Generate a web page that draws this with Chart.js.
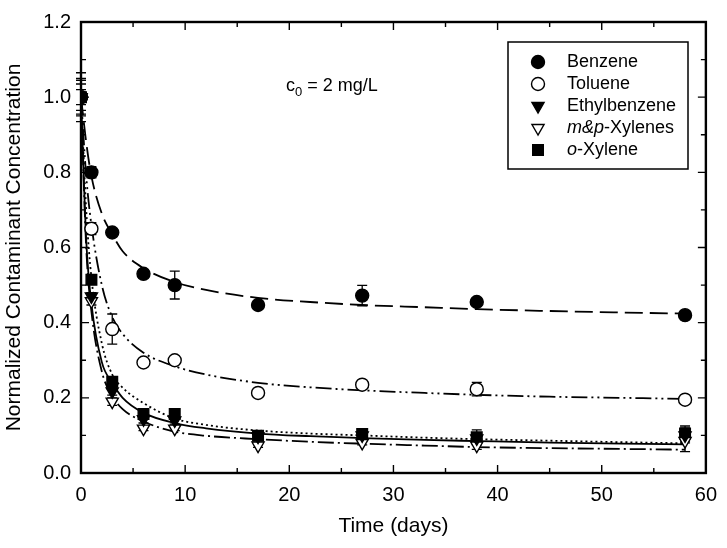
<!DOCTYPE html>
<html>
<head>
<meta charset="utf-8">
<script src="https://cdn.jsdelivr.net/npm/chart.js@4.4.0/dist/chart.umd.min.js"></script>
<style>
  body { margin: 0; background: #fff; }
  canvas { display: block; }
</style>
</head>
<body>
<canvas id="chart" width="727" height="548"></canvas>
<script>
// sampling days
const days = [0, 1, 3, 6, 9, 17, 27, 38, 58];

// measured normalized concentrations
const benzene      = [1.0, 0.80, 0.64, 0.53, 0.50, 0.447, 0.472, 0.455, 0.42];
const toluene      = [1.0, 0.65, 0.383, 0.294, 0.30, 0.213, 0.235, 0.223, 0.195];
const ethylbenzene = [1.0, 0.47, 0.217, 0.143, 0.14, 0.097, 0.10, 0.092, 0.10];
const mpXylenes    = [1.0, 0.457, 0.19, 0.118, 0.118, 0.073, 0.08, 0.073, 0.085];
const oXylene      = [1.0, 0.514, 0.243, 0.157, 0.157, 0.099, 0.104, 0.095, 0.105];

// error bars (+/-)
const benzeneErr      = [0.065, 0.015, 0.01, 0.01, 0.037, 0.01, 0.027, 0.008, 0.012];
const tolueneErr      = [0.05, 0.016, 0.04, 0.005, 0.005, 0.005, 0.008, 0.018, 0.01];
const ethylbenzeneErr = [0.035, 0.01, 0.01, 0.01, 0.01, 0.005, 0.005, 0.015, 0.02];
const mpXylenesErr    = [0.045, 0.01, 0.01, 0.005, 0.005, 0.005, 0.005, 0.01, 0.028];
const oXyleneErr      = [0.02, 0.01, 0.01, 0.01, 0.01, 0.005, 0.008, 0.02, 0.02];

// fitted curves
const fitDays = [0, 0.5, 1, 2, 3, 4, 6, 9, 12, 17, 22, 27, 33, 38, 45, 52, 58];
const benzeneFit      = [1.0, 0.88, 0.79, 0.69, 0.635, 0.59, 0.545, 0.508, 0.487, 0.466, 0.455, 0.447, 0.441, 0.436, 0.431, 0.427, 0.424];
const tolueneFit      = [1.0, 0.79, 0.66, 0.50, 0.415, 0.37, 0.32, 0.284, 0.262, 0.24, 0.228, 0.22, 0.213, 0.208, 0.203, 0.20, 0.197];
const ethylbenzeneFit = [1.0, 0.62, 0.45, 0.295, 0.24, 0.20, 0.16, 0.133, 0.119, 0.105, 0.098, 0.093, 0.088, 0.085, 0.081, 0.078, 0.076];
const mpXylenesFit    = [1.0, 0.60, 0.43, 0.27, 0.205, 0.17, 0.137, 0.11, 0.099, 0.09, 0.083, 0.078, 0.073, 0.069, 0.066, 0.064, 0.062];
const oXyleneFit      = [1.0, 0.70, 0.52, 0.345, 0.262, 0.227, 0.186, 0.145, 0.128, 0.113, 0.105, 0.10, 0.094, 0.09, 0.086, 0.082, 0.079];

// axis ticks
const xMajor = [0, 10, 20, 30, 40, 50, 60];
const xMinor = [5, 15, 25, 35, 45, 55];
const yMajor = [0, 0.2, 0.4, 0.6, 0.8, 1.0, 1.2];
const yMinor = [0.1, 0.3, 0.5, 0.7, 0.9, 1.1];

const seriesNames = ['Benzene', 'Toluene', 'Ethylbenzene', 'm&p-Xylenes', 'o-Xylene'];
const italicPart  = ['', '', '', 'm&p', 'o'];

const FONT = '"Liberation Sans", Arial, Helvetica, sans-serif';

function pts(xs, ys) {
    return xs.map((x, i) => ({ x: x, y: ys[i] }));
}

const series = [
    { data: benzene, err: benzeneErr, fit: benzeneFit, style: 'circle', radius: 6.5, rot: 0, fill: '#000', dash: [18, 7] },
    { data: toluene, err: tolueneErr, fit: tolueneFit, style: 'circle', radius: 6.5, rot: 0, fill: '#fff', dash: [16, 4, 2, 4, 2, 4] },
    { data: ethylbenzene, err: ethylbenzeneErr, fit: ethylbenzeneFit, style: 'triangle', radius: 7, rot: 180, fill: '#000', dash: [] },
    { data: mpXylenes, err: mpXylenesErr, fit: mpXylenesFit, style: 'triangle', radius: 7, rot: 180, fill: '#fff', dash: [16, 4, 2, 4] },
    { data: oXylene, err: oXyleneErr, fit: oXyleneFit, style: 'rect', radius: 7.5, rot: 0, fill: '#000', dash: [2, 3] }
];

const datasets = [];
series.forEach((s, i) => {
    datasets.push({
        label: seriesNames[i] + ' fit',
        data: pts(fitDays, s.fit),
        showLine: true,
        borderColor: '#000',
        borderWidth: 1.8,
        borderDash: s.dash,
        pointRadius: 0,
        cubicInterpolationMode: 'monotone',
        fill: false,
        order: 2
    });
});
series.forEach((s, i) => {
    datasets.push({
        label: seriesNames[i],
        data: pts(days, s.data),
        errors: s.err,
        showLine: false,
        pointStyle: s.style,
        pointRadius: s.radius,
        pointRotation: s.rot,
        pointBackgroundColor: s.fill,
        pointBorderColor: '#000',
        pointBorderWidth: 1.4,
        order: 1
    });
});

// error bars under the markers
const errorBars = {
    id: 'errorBars',
    beforeDatasetsDraw(chart) {
        const ctx = chart.ctx;
        const xs = chart.scales.x, ys = chart.scales.y;
        ctx.save();
        ctx.strokeStyle = '#000';
        ctx.lineWidth = 1.3;
        chart.data.datasets.forEach(ds => {
            if (!ds.errors) return;
            ds.data.forEach((p, i) => {
                const e = ds.errors[i];
                const px = xs.getPixelForValue(p.x);
                const y1 = ys.getPixelForValue(p.y + e);
                const y2 = ys.getPixelForValue(p.y - e);
                ctx.beginPath();
                ctx.moveTo(px, y1); ctx.lineTo(px, y2);
                ctx.moveTo(px - 5, y1); ctx.lineTo(px + 5, y1);
                ctx.moveTo(px - 5, y2); ctx.lineTo(px + 5, y2);
                ctx.stroke();
            });
        });
        ctx.restore();
    }
};

// frame, inward ticks, annotation and legend box
const decorations = {
    id: 'decorations',
    afterDraw(chart) {
        const ctx = chart.ctx;
        const a = chart.chartArea;
        const xs = chart.scales.x, ys = chart.scales.y;
        ctx.save();
        ctx.strokeStyle = '#000';
        ctx.lineWidth = 2.4;
        ctx.strokeRect(a.left, a.top, a.right - a.left, a.bottom - a.top);

        ctx.lineWidth = 1.4;
        ctx.beginPath();
        const tickX = (v, len) => {
            const px = xs.getPixelForValue(v);
            ctx.moveTo(px, a.bottom); ctx.lineTo(px, a.bottom - len);
            ctx.moveTo(px, a.top); ctx.lineTo(px, a.top + len);
        };
        const tickY = (v, len) => {
            const py = ys.getPixelForValue(v);
            ctx.moveTo(a.left, py); ctx.lineTo(a.left + len, py);
            ctx.moveTo(a.right, py); ctx.lineTo(a.right - len, py);
        };
        xMajor.forEach(v => tickX(v, 8));
        xMinor.forEach(v => tickX(v, 5));
        yMajor.forEach(v => tickY(v, 8));
        yMinor.forEach(v => tickY(v, 5));
        ctx.stroke();

        // c0 annotation
        ctx.fillStyle = '#000';
        ctx.textBaseline = 'alphabetic';
        ctx.font = '18px ' + FONT;
        let tx = 286, ty = 91;
        ctx.fillText('c', tx, ty);
        tx += ctx.measureText('c').width;
        ctx.font = '13px ' + FONT;
        ctx.fillText('0', tx, ty + 5);
        tx += ctx.measureText('0').width;
        ctx.font = '18px ' + FONT;
        ctx.fillText(' = 2 mg/L', tx, ty);

        // legend
        ctx.lineWidth = 1.5;
        ctx.strokeRect(508, 42, 180, 127);
        series.forEach((s, i) => {
            const rowY = 62 + i * 22;
            ctx.fillStyle = s.fill;
            ctx.strokeStyle = '#000';
            ctx.lineWidth = 1.4;
            Chart.helpers.drawPoint(ctx, { pointStyle: s.style, radius: s.radius, rotation: s.rot, borderWidth: 1.4 }, 538, rowY);
            ctx.fillStyle = '#000';
            ctx.textBaseline = 'middle';
            let lx = 567;
            const name = seriesNames[i];
            const it = italicPart[i];
            if (it) {
                ctx.font = 'italic 18px ' + FONT;
                ctx.fillText(it, lx, rowY);
                lx += ctx.measureText(it).width;
            }
            ctx.font = '18px ' + FONT;
            ctx.fillText(name.slice(it.length), lx, rowY);
        });
        ctx.restore();
    }
};

new Chart(document.getElementById('chart'), {
    type: 'scatter',
    data: { datasets: datasets },
    options: {
        responsive: false,
        animation: false,
        layout: { padding: { left: 0, right: 19, top: 15, bottom: 0 } },
        plugins: {
            legend: { display: false },
            tooltip: { enabled: false }
        },
        scales: {
            x: {
                type: 'linear',
                min: 0, max: 60,
                grid: { display: false, drawTicks: false },
                border: { display: false },
                ticks: { stepSize: 10, padding: 10, color: '#000', font: { family: FONT, size: 20 } },
                title: { display: true, text: 'Time (days)', color: '#000', padding: { top: 0, bottom: 9 }, font: { family: FONT, size: 21 } },
                afterFit: s => { s.height = 75; }
            },
            y: {
                type: 'linear',
                min: 0, max: 1.2,
                grid: { display: false, drawTicks: false },
                border: { display: false },
                ticks: { stepSize: 0.2, padding: 10, color: '#000', font: { family: FONT, size: 20 },
                         callback: v => v.toFixed(1) },
                title: { display: true, text: 'Normalized Contaminant Concentration', color: '#000', padding: { top: 2, bottom: 0 }, font: { family: FONT, size: 21 } },
                afterFit: s => { s.width = 81; }
            }
        }
    },
    plugins: [errorBars, decorations]
});
</script>
</body>
</html>
